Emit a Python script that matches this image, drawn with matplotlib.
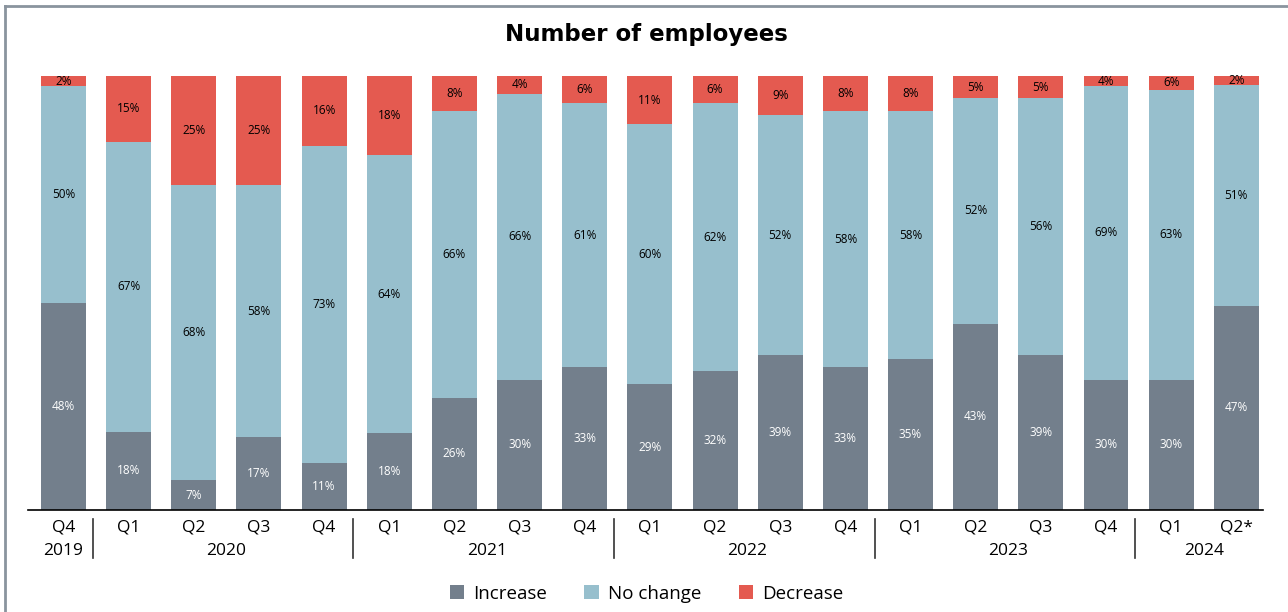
import matplotlib
matplotlib.use("Agg")
import matplotlib.pyplot as plt
from matplotlib.lines import Line2D
import numpy as np

quarters = ["Q4", "Q1", "Q2", "Q3", "Q4", "Q1", "Q2", "Q3", "Q4", "Q1",
            "Q2", "Q3", "Q4", "Q1", "Q2", "Q3", "Q4", "Q1", "Q2*"]
years = ["2019", "2020", "2021", "2022", "2023", "2024"]
year_sizes = [1, 4, 4, 4, 4, 2]

# printed labels
increase = [48, 18, 7, 17, 11, 18, 26, 30, 33, 29, 32, 39, 33, 35, 43, 39, 30, 30, 47]
no_change = [50, 67, 68, 58, 73, 64, 66, 66, 61, 60, 62, 52, 58, 58, 52, 56, 69, 63, 51]
decrease = [2, 15, 25, 25, 16, 18, 8, 4, 6, 11, 6, 9, 8, 8, 5, 5, 4, 6, 2]

# segment heights as drawn in the picture (share of bar, %)
increase_h = [47.7, 18.0, 6.9, 16.8, 10.8, 17.7, 25.8, 30.0, 32.9, 29.0,
              32.0, 35.7, 32.9, 34.8, 42.9, 35.7, 30.0, 30.0, 47.0]
no_change_h = [50.0, 66.8, 68.0, 58.1, 73.1, 64.1, 66.1, 65.9, 60.9, 59.9,
               61.8, 55.3, 59.0, 57.1, 52.0, 59.2, 67.7, 66.8, 50.9]
decrease_h = [2.3, 15.2, 25.1, 25.1, 16.1, 18.2, 8.1, 4.1, 6.2, 11.1,
              6.2, 9.0, 8.1, 8.1, 5.1, 5.1, 2.3, 3.2, 2.1]

series = [("Increase", increase_h, increase, "#737f8c", "white"),
          ("No change", no_change_h, no_change, "#97bfcd", "black"),
          ("Decrease", decrease_h, decrease, "#e45a50", "black")]

plt.rcParams["font.family"] = ["Open Sans", "DejaVu Sans"]

fig = plt.figure(figsize=(12.88, 6.12), dpi=100)
ax = fig.add_axes([0.0217, 0.1667, 0.9589, 0.7091])

x = np.arange(len(quarters))
bottom = np.zeros(len(x))
for name, heights, labels, col, tcol in series:
    h = np.array(heights)
    ax.bar(x, h, bottom=bottom, width=0.69, color=col, label=name)
    for xi, b, hh, v in zip(x, bottom, h, labels):
        ax.text(xi, b + hh / 2, f"{v}%", ha="center", va="center",
                fontsize=8.5, color=tcol)
    bottom += h

ax.set_xlim(-0.545, 18.41)
ax.set_ylim(0, 100)
for s in ["top", "right", "left"]:
    ax.spines[s].set_visible(False)
ax.spines["bottom"].set_linewidth(1.2)
ax.set_yticks([])
ax.set_xticks(x)
ax.set_xticklabels(quarters, fontsize=12.5)
ax.tick_params(axis="x", length=0, pad=7)

# year labels and separators
start = 0
for yr, n in zip(years, year_sizes):
    center = start + (n - 1) / 2
    ax.text(center, -9.5, yr, ha="center", va="center", fontsize=12.5,
            transform=ax.transData, clip_on=False)
    if start > 0:
        ax.add_line(Line2D([start - 0.55, start - 0.55], [-2, -11],
                           color="#333333", lw=1.2, clip_on=False))
    start += n

fig.suptitle("Number of employees", x=0.502, y=0.943, va="center",
             fontsize=16.5, fontweight="bold", family="DejaVu Sans")

fig.legend(loc="center", bbox_to_anchor=(0.502, 0.03), ncol=3, frameon=False,
           fontsize=13.5, handlelength=0.75, handleheight=0.75, columnspacing=2.0,
           handletextpad=0.5)

# frame lines at top and left
fig.add_artist(Line2D([0.0035, 0.0035], [0, 0.99], color="#8a949e", lw=2,
                      transform=fig.transFigure))
fig.add_artist(Line2D([0.0035, 1], [0.99, 0.99], color="#8a949e", lw=2,
                      transform=fig.transFigure))

fig.savefig("out.png", dpi=100)
